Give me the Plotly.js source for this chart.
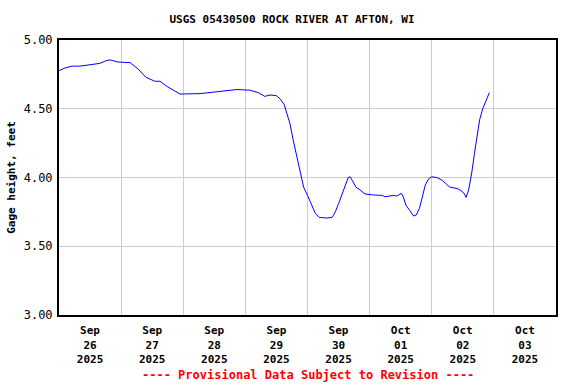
<!DOCTYPE html>
<html>
<head>
<meta charset="utf-8">
<script src="https://cdn.plot.ly/plotly-3.0.1.min.js"></script>
<style>html,body{margin:0;padding:0;background:#fff;}#chart{width:576px;height:384px;}</style>
</head>
<body>
<div id="chart"></div>
<script>
const times = [
  "2025-09-26 00:00","2025-09-26 02:15","2025-09-26 05:00","2025-09-26 08:00","2025-09-26 12:00",
  "2025-09-26 15:45","2025-09-26 18:15","2025-09-26 19:45","2025-09-26 22:45","2025-09-27 01:45",
  "2025-09-27 03:30","2025-09-27 06:30","2025-09-27 09:30","2025-09-27 13:00","2025-09-27 15:00",
  "2025-09-27 17:30","2025-09-27 20:45","2025-09-27 22:45","2025-09-28 06:30","2025-09-28 12:15",
  "2025-09-28 18:00","2025-09-28 20:45","2025-09-29 01:45","2025-09-29 05:00","2025-09-29 07:30",
  "2025-09-29 09:30","2025-09-29 12:00","2025-09-29 13:30","2025-09-29 15:00","2025-09-29 16:00",
  "2025-09-29 17:15","2025-09-29 18:30","2025-09-29 20:00","2025-09-29 21:15","2025-09-29 22:30",
  "2025-09-30 00:15","2025-09-30 01:45","2025-09-30 03:00","2025-09-30 04:30","2025-09-30 07:30",
  "2025-09-30 09:30","2025-09-30 10:45","2025-09-30 12:00","2025-09-30 13:15","2025-09-30 14:30",
  "2025-09-30 15:45","2025-09-30 16:30","2025-09-30 17:30","2025-09-30 18:45","2025-09-30 20:15",
  "2025-09-30 22:15","2025-10-01 01:30","2025-10-01 04:45","2025-10-01 06:00","2025-10-01 08:00",
  "2025-10-01 09:15","2025-10-01 10:30","2025-10-01 11:30","2025-10-01 12:15","2025-10-01 13:00",
  "2025-10-01 14:00","2025-10-01 15:30","2025-10-01 17:00","2025-10-01 18:00","2025-10-01 19:15",
  "2025-10-01 20:15","2025-10-01 21:30","2025-10-01 22:45","2025-10-02 00:00","2025-10-02 02:00",
  "2025-10-02 04:00","2025-10-02 05:45","2025-10-02 07:00","2025-10-02 09:45","2025-10-02 11:15",
  "2025-10-02 12:30","2025-10-02 13:15","2025-10-02 14:15","2025-10-02 15:30","2025-10-02 16:30",
  "2025-10-02 17:30","2025-10-02 18:30","2025-10-02 19:45","2025-10-02 21:00","2025-10-02 22:15"
];
const gageHeight = [
  4.777,4.796,4.81,4.81,4.82,
  4.83,4.85,4.855,4.84,4.84,
  4.835,4.79,4.73,4.70,4.70,
  4.665,4.63,4.607,4.61,4.62,
  4.63,4.64,4.635,4.617,4.59,
  4.60,4.595,4.57,4.53,4.467,
  4.39,4.27,4.15,4.03,3.93,
  3.86,3.80,3.74,3.71,3.705,
  3.71,3.75,3.81,3.87,3.93,
  4.00,4.005,3.97,3.93,3.91,
  3.88,3.873,3.87,3.86,3.865,
  3.87,3.865,3.88,3.885,3.86,
  3.80,3.76,3.72,3.727,3.776,
  3.85,3.945,3.99,4.005,4.00,
  3.98,3.95,3.93,3.92,3.905,
  3.885,3.855,3.91,4.04,4.175,
  4.30,4.42,4.503,4.564,4.617
];
const xRange = ["2025-09-26 00:00","2025-10-04 00:00"];
const yTicks = [3.0,3.5,4.0,4.5,5.0];
const chartTitle = "USGS 05430500 ROCK RIVER AT AFTON, WI";
const yTitle = "Gage height, feet";
const footer = "---- Provisional Data Subject to Revision ----";

const mono = "DejaVu Sans Mono, monospace";
const trace = {
  x: times, y: gageHeight, type: "scatter", mode: "lines",
  line: {color: "#0000ff", width: 1}, hoverinfo: "skip"
};
const layout = {
  width: 576, height: 384,
  margin: {l: 59, r: 20, t: 40, b: 69},
  paper_bgcolor: "#ffffff", plot_bgcolor: "#ffffff",
  showlegend: false,
  title: {text: "<b>" + chartTitle + "</b>", x: 0.507, xanchor: "center", y: 0.95, yanchor: "middle",
          font: {family: mono, size: 11, color: "#000"}},
  xaxis: {
    type: "date", range: xRange, dtick: 86400000, tick0: "2025-09-26",
    ticklabelmode: "period", tickformat: "<b>%b</b><br><b>%d</b><br><b>%Y</b>",
    ticks: "", ticklabelstandoff: 4, showgrid: true, gridcolor: "#cccccc", gridwidth: 1,
    showline: true, linecolor: "#000", linewidth: 2, mirror: true,
    tickfont: {family: mono, size: 11, color: "#000"}, zeroline: false, fixedrange: true
  },
  yaxis: {
    range: [3, 5], tickvals: yTicks, tickformat: ".2f",
    ticks: "", ticklabelstandoff: 2, showgrid: true, gridcolor: "#cccccc", gridwidth: 1,
    showline: true, linecolor: "#000", linewidth: 2, mirror: true,
    tickfont: {family: mono, size: 12, color: "#000"}, zeroline: false,
    title: {text: "<b>" + yTitle + "</b>", font: {family: mono, size: 11, color: "#000"}, standoff: 6},
    fixedrange: true
  },
  annotations: [{
    text: "<b>" + footer + "</b>", xref: "paper", yref: "paper", x: 0.5, y: -0.218,
    xanchor: "center", yanchor: "middle", showarrow: false,
    font: {family: mono, size: 12, color: "#ff0000"}
  }]
};
Plotly.newPlot("chart", [trace], layout, {staticPlot: true, displayModeBar: false});
</script>
</body>
</html>
